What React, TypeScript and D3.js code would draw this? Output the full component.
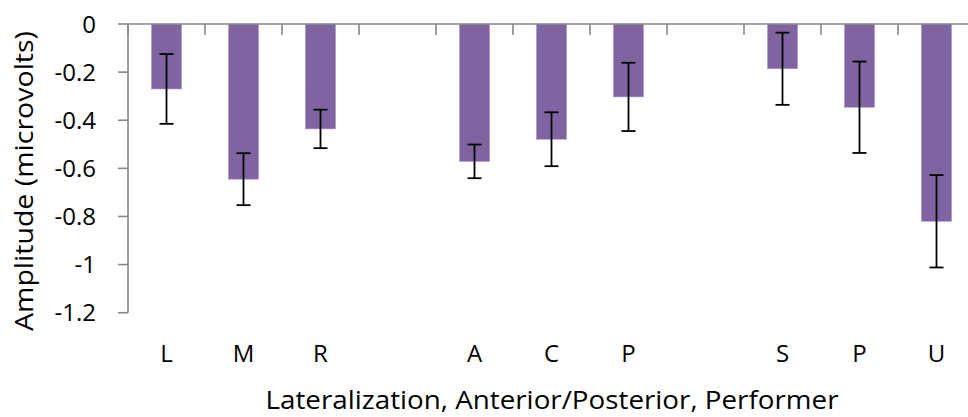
import React from "react";
import * as d3 from "d3";

const categories = ["L", "M", "R", "", "A", "C", "P", "", "S", "P", "U"];
const means: (number | null)[] = [-0.27, -0.645, -0.436, null, -0.571, -0.479, -0.303, null, -0.186, -0.346, -0.82];
const errors: (number | null)[] = [0.145, 0.108, 0.08, null, 0.07, 0.112, 0.142, null, 0.15, 0.19, 0.192];
const yTicks = [0, -0.2, -0.4, -0.6, -0.8, -1, -1.2];
const yTickLabels = ["0", "-0.2", "-0.4", "-0.6", "-0.8", "-1", "-1.2"];

const W = 968;
const H = 417;
const FONT = "'Open Sans', 'Noto Sans', sans-serif";

export default function App() {
  const idx = categories.map((_, i) => String(i));
  const x = d3.scaleBand<string>().domain(idx).range([128, 975]).paddingInner(0.61).paddingOuter(0.305);
  const y = d3.scaleLinear().domain([0, -1.2]).range([24, 312.7]);
  const step = x.step();
  const left = 128;
  const axisColor = "#878787";
  const bw = x.bandwidth();

  return (
    <svg width={W} height={H} style={{ position: "absolute", left: 0, top: 0, background: "#fff" }}>
      {/* bars */}
      {means.map((m, i) =>
        m === null ? null : (
          <rect key={"b" + i} x={x(String(i))!} y={y(0)} width={bw} height={y(m) - y(0)} fill="#8064A2" stroke="#a994c4" strokeWidth={0.6} />
        )
      )}
      {/* y axis */}
      <line x1={left} x2={left} y1={y(0)} y2={y(-1.2)} stroke={axisColor} strokeWidth={1.6} />
      {yTicks.map((t, i) => (
        <g key={"yt" + t}>
          <line x1={left - 10} x2={left} y1={y(t)} y2={y(t)} stroke={axisColor} strokeWidth={1.6} />
          <text x={96} y={y(t)} dy="0.36em" textAnchor="end" fontFamily={FONT} fontSize={24} fill="#000">
            {yTickLabels[i]}
          </text>
        </g>
      ))}
      {/* x axis at zero */}
      <line x1={left} x2={W} y1={y(0)} y2={y(0)} stroke={axisColor} strokeWidth={1.6} />
      {d3.range(categories.length + 1).map((i) => (
        <line key={"xt" + i} x1={left + i * step} x2={left + i * step} y1={y(0)} y2={y(0) + 11} stroke={axisColor} strokeWidth={1.6} />
      ))}
      {/* error bars */}
      {means.map((m, i) => {
        const e = errors[i];
        if (m === null || e === null) return null;
        const cx = x(String(i))! + bw / 2;
        return (
          <g key={"e" + i} stroke="#000" strokeWidth={1.8}>
            <line x1={cx} x2={cx} y1={y(m + e)} y2={y(m - e)} />
            <line x1={cx - 7} x2={cx + 7} y1={y(m + e)} y2={y(m + e)} />
            <line x1={cx - 7} x2={cx + 7} y1={y(m - e)} y2={y(m - e)} />
          </g>
        );
      })}
      {/* category labels */}
      {categories.map((c, i) =>
        c ? (
          <text key={"c" + i} x={x(String(i))! + bw / 2} y={362} textAnchor="middle" fontFamily={FONT} fontSize={24} fill="#000">
            {c}
          </text>
        ) : null
      )}
      {/* axis titles */}
      <text x={552} y={409} textAnchor="middle" fontFamily={FONT} fontSize={25} textLength={573} lengthAdjust="spacingAndGlyphs" fill="#000">
        Lateralization, Anterior/Posterior,  Performer
      </text>
      <text transform={`translate(33, 181) rotate(-90)`} textAnchor="middle" fontFamily={FONT} fontSize={25} textLength={300} lengthAdjust="spacingAndGlyphs" fill="#000">
        Amplitude (microvolts)
      </text>
    </svg>
  );
}
